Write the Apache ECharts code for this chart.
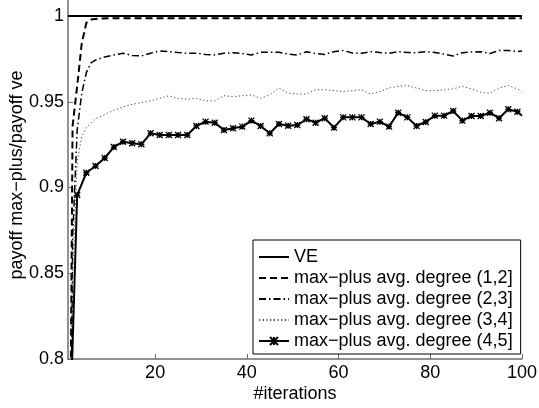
<!DOCTYPE html>
<html>
<head>
<meta charset="utf-8">
<script src="https://cdn.jsdelivr.net/npm/echarts@6/dist/echarts.min.js"></script>
<style>html,body{margin:0;padding:0;background:#fff}#c{width:539px;height:408px}</style>
</head>
<body>
<div id="c"></div>
<script>
// ---- data ----
var seriesNames = ['VE', 'max\u2212plus avg. degree (1,2]', 'max\u2212plus avg. degree (2,3]', 'max\u2212plus avg. degree (3,4]', 'max\u2212plus avg. degree (4,5]'];
var xTicks = [20, 40, 60, 80, 100];
var yTicks = [0.8, 0.85, 0.9, 0.95, 1];

var veX = [1, 100];
var veY = [1, 1];

var d12X = [1, 2, 3, 4, 5, 6, 8, 10, 20, 30, 40, 50, 60, 70, 80, 90, 100];
var d12Y = [0.57, 0.936, 0.959, 0.984, 0.996, 0.998, 0.9985, 0.9987, 0.9987, 0.9987, 0.9987, 0.9987, 0.9987, 0.9987, 0.9987, 0.9987, 0.9987];

var d23X = [1, 2, 3, 4, 5, 6, 7, 9, 11, 13, 15, 17, 19, 21, 23, 25, 27, 29, 31, 33, 35, 37, 39, 41, 43, 45, 47, 49, 51, 53, 55, 57, 59, 61, 63, 65, 67, 69, 71, 73, 75, 77, 79, 81, 83, 85, 87, 89, 91, 93, 95, 97, 99, 100];
var d23Y = [0.5, 0.87, 0.9335, 0.955, 0.967, 0.9726, 0.9743, 0.9761, 0.9773, 0.9783, 0.9770, 0.9767, 0.9783, 0.9796, 0.9792, 0.9787, 0.9783, 0.9783, 0.9776, 0.9773, 0.9783, 0.9786, 0.9781, 0.9773, 0.9788, 0.9788, 0.9788, 0.9778, 0.9773, 0.9792, 0.9781, 0.9776, 0.9792, 0.9799, 0.9784, 0.9783, 0.9792, 0.9787, 0.9783, 0.9792, 0.9787, 0.9786, 0.9792, 0.9787, 0.9778, 0.9767, 0.9786, 0.9790, 0.9792, 0.9781, 0.9799, 0.9799, 0.9793, 0.9796];

var d34X = [1, 2, 3, 4, 5, 7, 9, 11, 13, 15, 17, 19, 21, 23, 25, 27, 29, 31, 33, 35, 37, 39, 41, 43, 45, 47, 49, 51, 53, 55, 57, 59, 61, 63, 65, 67, 69, 71, 73, 75, 77, 79, 81, 83, 85, 87, 89, 91, 93, 95, 97, 99, 100];
var d34Y = [0.45, 0.85, 0.915, 0.93, 0.935, 0.940, 0.9425, 0.945, 0.947, 0.9485, 0.9495, 0.9505, 0.952, 0.9535, 0.952, 0.9515, 0.952, 0.9505, 0.9505, 0.9535, 0.953, 0.9535, 0.954, 0.952, 0.954, 0.958, 0.955, 0.9545, 0.9545, 0.957, 0.957, 0.9565, 0.956, 0.9565, 0.957, 0.9545, 0.956, 0.958, 0.959, 0.9595, 0.958, 0.9565, 0.9565, 0.957, 0.9575, 0.959, 0.9575, 0.9555, 0.955, 0.958, 0.9595, 0.9575, 0.956];

var d45X = [1, 3, 5, 7, 9, 11, 13, 15, 17, 19, 21, 23, 25, 27, 29, 31, 33, 35, 37, 39, 41, 43, 45, 47, 49, 51, 53, 55, 57, 59, 61, 63, 65, 67, 69, 71, 73, 75, 77, 79, 81, 83, 85, 87, 89, 91, 93, 95, 97, 99, 100];
var d45Y = [0.72, 0.8956, 0.9086, 0.9125, 0.9172, 0.9236, 0.9267, 0.9258, 0.9252, 0.9316, 0.9306, 0.9306, 0.9306, 0.9306, 0.9359, 0.9384, 0.9378, 0.9335, 0.9345, 0.9355, 0.9390, 0.9359, 0.9316, 0.9370, 0.9360, 0.9364, 0.9398, 0.9378, 0.9404, 0.9349, 0.9409, 0.9409, 0.9409, 0.9370, 0.9384, 0.9355, 0.9436, 0.9409, 0.9359, 0.9382, 0.9419, 0.9419, 0.9446, 0.9390, 0.9417, 0.9417, 0.9436, 0.9404, 0.9456, 0.9442, 0.9419];

function pairs(xs, ys) { return xs.map(function (x, i) { return [x, ys[i]]; }); }

var FONT = '"Liberation Sans", Arial, Helvetica, sans-serif';
var AXC = '#6e6e6e';
var starPath = 'path://M0,0L10,10M10,0L0,10M5,0L5,10M0,5L10,5';
var hidden = {color: 'rgba(0,0,0,0)', borderColor: 'rgba(0,0,0,0)', borderWidth: 0, opacity: 0};

var chart = echarts.init(document.getElementById('c'), null, {renderer: 'canvas'});
chart.setOption({
  backgroundColor: '#fff',
  animation: false,
  textStyle: {fontFamily: FONT},
  grid: {left: 68, right: 17, top: 0, bottom: 49, containLabel: false, outerBoundsMode: 'none'},
  xAxis: {
    type: 'value', min: 1, max: 100,
    name: '#iterations', nameLocation: 'middle', nameGap: 26, nameMoveOverlap: false,
    nameTextStyle: {fontSize: 18, color: '#000', fontFamily: FONT},
    axisLine: {lineStyle: {color: AXC, width: 1.5}},
    axisTick: {inside: true, length: 5, customValues: xTicks, lineStyle: {color: AXC, width: 1}},
    axisLabel: {customValues: xTicks, fontSize: 18, color: '#000', margin: 5, fontFamily: FONT},
    splitLine: {show: false}
  },
  yAxis: {
    type: 'value', min: 0.8, max: 1.00933,
    name: 'payoff max\u2212plus/payoff ve', nameLocation: 'middle', nameGap: 42, nameRotate: 90, nameMoveOverlap: false,
    nameTextStyle: {fontSize: 18, color: '#000', fontFamily: FONT, padding: [0, 0, 0, 9]},
    axisLine: {show: true, lineStyle: {color: AXC, width: 1.5}},
    axisTick: {show: true, inside: true, length: 5, customValues: yTicks, lineStyle: {color: AXC, width: 1}},
    axisLabel: {customValues: yTicks, fontSize: 18, color: '#000', margin: 4, fontFamily: FONT,
      formatter: function (v) { return String(Math.round(v * 100) / 100); }},
    splitLine: {show: false}
  },
  legend: {
    orient: 'vertical', left: 253, top: 240,
    padding: [8, 8, 4, 5], itemGap: 3, itemWidth: 30, itemHeight: 10,
    backgroundColor: '#fff', borderColor: '#000', borderWidth: 1,
    textStyle: {fontSize: 18, color: '#000', fontFamily: FONT},
    data: [
      {name: seriesNames[0], itemStyle: hidden},
      {name: seriesNames[1], itemStyle: hidden},
      {name: seriesNames[2], itemStyle: hidden},
      {name: seriesNames[3], itemStyle: hidden},
      {name: seriesNames[4]}
    ]
  },
  series: [
    {name: seriesNames[0], type: 'line', data: pairs(veX, veY), symbol: 'none', color: '#000',
      lineStyle: {color: '#000', width: 2.2}},
    {name: seriesNames[1], type: 'line', data: pairs(d12X, d12Y), symbol: 'none', color: '#000',
      lineStyle: {color: '#000', width: 2, type: [7, 4]}},
    {name: seriesNames[2], type: 'line', data: pairs(d23X, d23Y), symbol: 'none', color: '#000',
      lineStyle: {color: '#000', width: 1.5, type: [7, 3, 1.5, 3]}},
    {name: seriesNames[3], type: 'line', data: pairs(d34X, d34Y), symbol: 'none', color: '#555',
      lineStyle: {color: '#444', width: 1, type: [1.2, 2.5]}},
    {name: seriesNames[4], type: 'line', color: '#000',
      data: pairs(d45X, d45Y).map(function (p) { return p[0] === 100 ? {value: p, symbol: 'none'} : p; }),
      symbol: starPath, symbolSize: 6, showAllSymbol: true,
      itemStyle: {color: '#000', borderColor: '#000', borderWidth: 1.3},
      lineStyle: {color: '#000', width: 2}}
  ]
});
</script>
</body>
</html>
